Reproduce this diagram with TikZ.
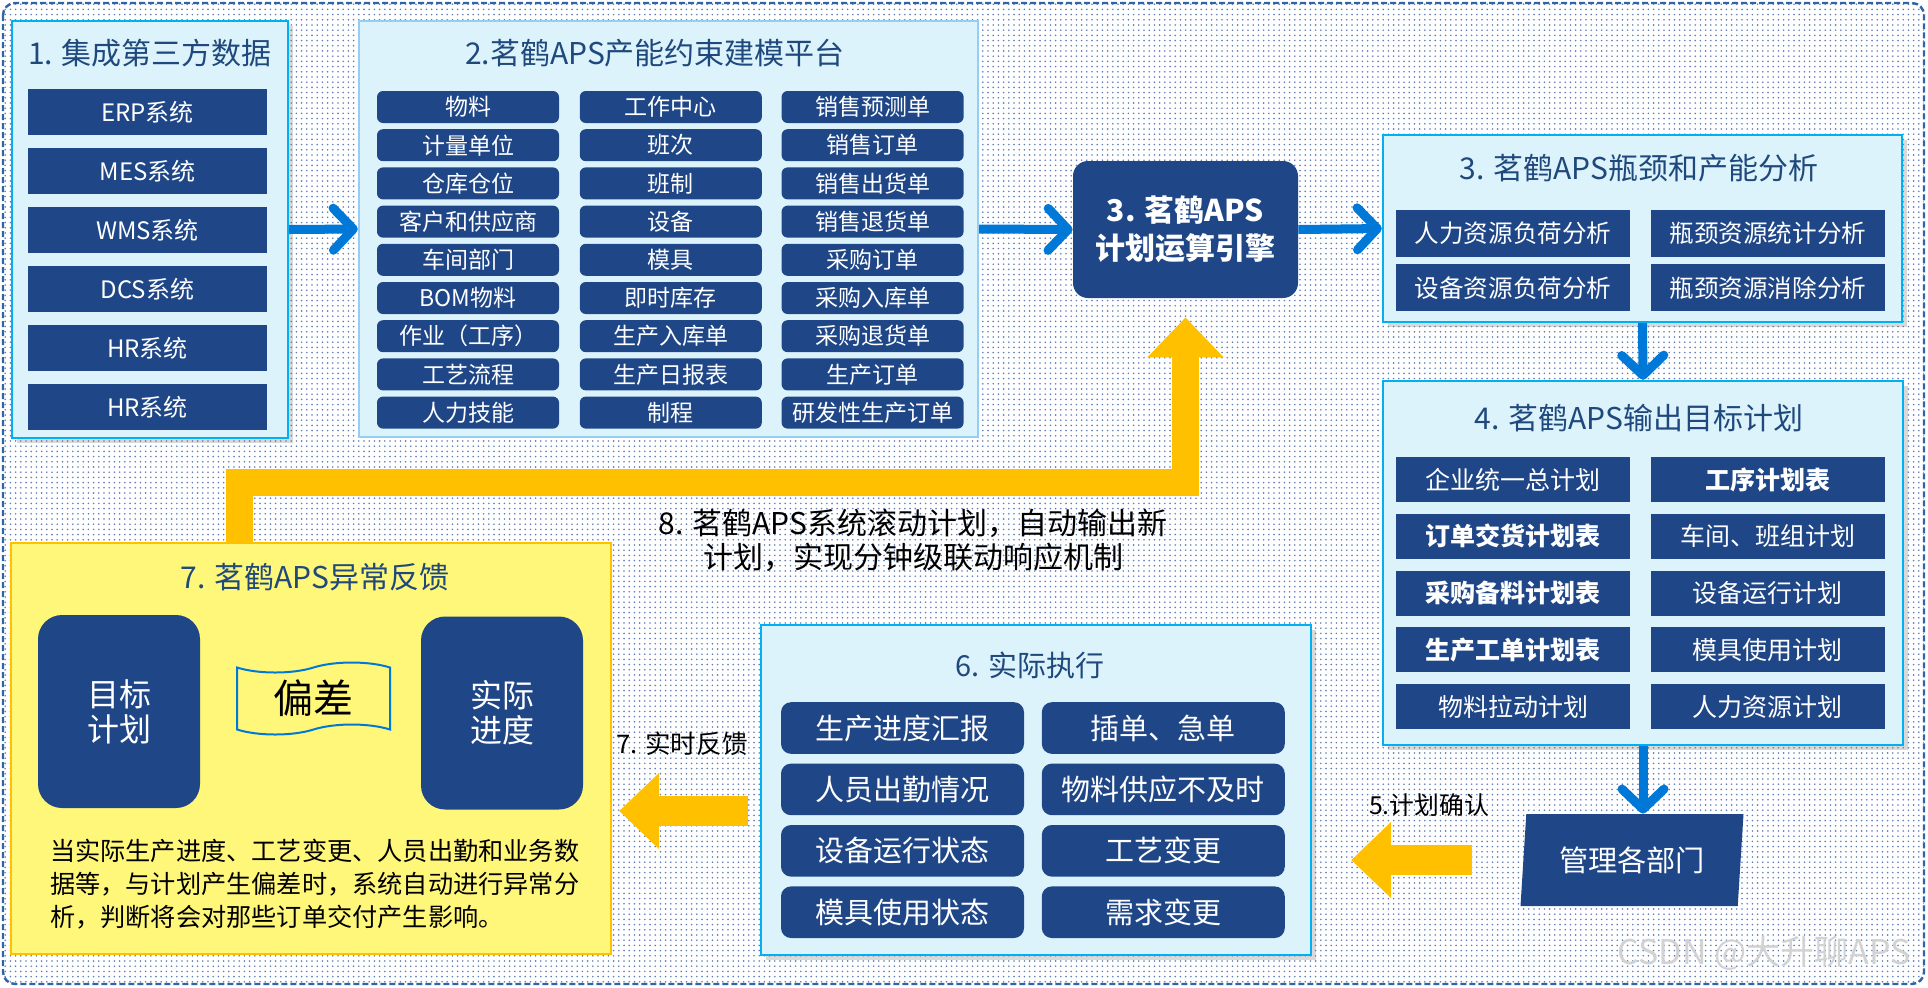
\documentclass[tikz,border=0pt]{standalone}
\usepackage{fontspec}
\setmainfont{Noto Sans CJK SC}
\usetikzlibrary{positioning,arrows.meta,shapes.geometric,shapes.symbols,shadows,patterns.meta}

\definecolor{navy}{RGB}{31,71,136}
\definecolor{ttlblue}{RGB}{31,73,125}
\definecolor{panelfill}{RGB}{221,243,252}
\definecolor{panelline}{RGB}{0,176,240}
\definecolor{paleline}{RGB}{150,205,242}
\definecolor{flowblue}{RGB}{0,120,215}
\definecolor{amber}{RGB}{255,192,0}
\definecolor{lemon}{RGB}{255,247,122}
\definecolor{dashblue}{RGB}{46,100,168}
\definecolor{dotblue}{RGB}{95,125,185}

\begin{document}
\begin{tikzpicture}[
  x=0.5pt, y=-0.5pt,
  panel/.style={rectangle, draw=panelline, line width=1.2pt, fill=panelfill},
  raised/.style={drop shadow={shadow xshift=2.5pt, shadow yshift=-2.5pt, opacity=0.3}},
  paneltitle/.style={text=ttlblue, font=\fontsize{15}{18}\selectfont},
  sysbox/.style={rectangle, fill=navy, text=white, inner sep=0pt,
    minimum width=119.5pt, minimum height=23pt, font=\fontsize{12}{14}\selectfont},
  databox/.style={rectangle, rounded corners=3pt, fill=navy, text=white, inner sep=0pt,
    minimum width=91pt, minimum height=16pt, font=\fontsize{11.5}{13}\selectfont},
  anabox/.style={rectangle, fill=navy, text=white, inner sep=0pt,
    minimum width=117pt, minimum height=23.5pt, font=\fontsize{12.3}{14}\selectfont},
  planbox/.style={anabox, minimum height=22.5pt, font=\fontsize{12.5}{14}\selectfont},
  execbox/.style={rectangle, rounded corners=5pt, fill=navy, text=white, inner sep=0pt,
    minimum width=121.5pt, minimum height=25.8pt, font=\fontsize{14.5}{16}\selectfont},
  stagebox/.style={rectangle, rounded corners=12pt, fill=navy, text=white, align=center,
    minimum width=81pt, minimum height=96.5pt, font=\fontsize{16}{17.5}\selectfont},
  bluearrow/.style={-{Straight Barb[length=10pt, width=21pt, round]}, line width=4.5pt, draw=flowblue},
  fbarrow/.style={-{Triangle[length=20pt, width=37pt]}, line width=15pt, draw=amber},
  flowlabel/.style={text=black, align=center}
]
  \useasboundingbox (0,0) rectangle (1928,987);
  % dotted backdrop with dashed frame
  \draw[dash pattern=on 3pt off 1.5pt, draw=dashblue, line width=1.2pt, rounded corners=6pt,
    pattern={Dots[radius=0.45pt, distance=2.6pt]}, pattern color=dotblue] (3,3) rectangle (1924,984);

  % 1. third party data
  \node[panel, raised, minimum width=138pt, minimum height=208.5pt] (src) at (150,229.5) {};
  \node[paneltitle] (srctitle) at (150,53) {1. 集成第三方数据};
  \node[sysbox] (erp) at (147.5,112) {ERP系统};
  \node[sysbox, below=6.1pt of erp] (mes) {MES系统};
  \node[sysbox, below=6.1pt of mes] (wms) {WMS系统};
  \node[sysbox, below=6.1pt of wms] (dcs) {DCS系统};
  \node[sysbox, below=6.1pt of dcs] (hra) {HR系统};
  \node[sysbox, below=6.1pt of hra] (hrb) {HR系统};

  % 2. modelling platform
  \node[panel, draw=paleline, minimum width=309.5pt, minimum height=208pt] (plat) at (668.5,229) {};
  \node[paneltitle] (plattitle) at (655,53) {2.茗鹤APS产能约束建模平台};
  \node[databox] (m1) at (468,107) {物料};
  \node[databox, below=2.7pt of m1] (m2) {计量单位};
  \node[databox, below=2.7pt of m2] (m3) {仓库仓位};
  \node[databox, below=2.7pt of m3] (m4) {客户和供应商};
  \node[databox, below=2.7pt of m4] (m5) {车间部门};
  \node[databox, below=2.7pt of m5] (m6) {BOM物料};
  \node[databox, below=2.7pt of m6] (m7) {作业（工序）};
  \node[databox, below=2.7pt of m7] (m8) {工艺流程};
  \node[databox, below=2.7pt of m8] (m9) {人力技能};
  \node[databox, right=10pt of m1] (w1) {工作中心};
  \node[databox, below=2.7pt of w1] (w2) {班次};
  \node[databox, below=2.7pt of w2] (w3) {班制};
  \node[databox, below=2.7pt of w3] (w4) {设备};
  \node[databox, below=2.7pt of w4] (w5) {模具};
  \node[databox, below=2.7pt of w5] (w6) {即时库存};
  \node[databox, below=2.7pt of w6] (w7) {生产入库单};
  \node[databox, below=2.7pt of w7] (w8) {生产日报表};
  \node[databox, below=2.7pt of w8] (w9) {制程};
  \node[databox, right=9.5pt of w1] (o1) {销售预测单};
  \node[databox, below=2.7pt of o1] (o2) {销售订单};
  \node[databox, below=2.7pt of o2] (o3) {销售出货单};
  \node[databox, below=2.7pt of o3] (o4) {销售退货单};
  \node[databox, below=2.7pt of o4] (o5) {采购订单};
  \node[databox, below=2.7pt of o5] (o6) {采购入库单};
  \node[databox, below=2.7pt of o6] (o7) {采购退货单};
  \node[databox, below=2.7pt of o7] (o8) {生产订单};
  \node[databox, below=2.7pt of o8] (o9) {研发性生产订单};

  % 3. engine
  \node[rectangle, rounded corners=7.5pt, fill=navy, text=white, align=center,
    minimum width=112.5pt, minimum height=68.5pt,
    font=\bfseries\fontsize{15}{19}\selectfont] (engine) at (1185.5,229.5) {3. 茗鹤APS\\计划运算引擎};

  % 3. bottleneck analysis
  \node[panel, raised, minimum width=259.5pt, minimum height=93.5pt] (bottle) at (1642.5,228.5) {};
  \node[paneltitle] (bottletitle) at (1639,168) {3. 茗鹤APS瓶颈和产能分析};
  \node[anabox] (hrload) at (1513,233) {人力资源负荷分析};
  \node[anabox, below=3.5pt of hrload] (eqload) {设备资源负荷分析};
  \node[anabox, right=10pt of hrload] (bnstat) {瓶颈资源统计分析};
  \node[anabox, right=10pt of eqload] (bnelim) {瓶颈资源消除分析};

  % 4. target plans
  \node[panel, raised, minimum width=260pt, minimum height=182pt] (plan) at (1643,563) {};
  \node[paneltitle] (plantitle) at (1639,418) {4. 茗鹤APS输出目标计划};
  \node[planbox] (p1) at (1513,479.5) {企业统一总计划};
  \node[planbox, below=5.5pt of p1, font=\bfseries\fontsize{12.5}{14}\selectfont] (p2) {订单交货计划表};
  \node[planbox, below=5.5pt of p2, font=\bfseries\fontsize{12.5}{14}\selectfont] (p3) {采购备料计划表};
  \node[planbox, below=5.5pt of p3, font=\bfseries\fontsize{12.5}{14}\selectfont] (p4) {生产工单计划表};
  \node[planbox, below=5.5pt of p4] (p5) {物料拉动计划};
  \node[planbox, right=10pt of p1, font=\bfseries\fontsize{12.5}{14}\selectfont] (q1) {工序计划表};
  \node[planbox, below=5.5pt of q1] (q2) {车间、班组计划};
  \node[planbox, below=5.5pt of q2] (q3) {设备运行计划};
  \node[planbox, below=5.5pt of q3] (q4) {模具使用计划};
  \node[planbox, below=5.5pt of q4] (q5) {人力资源计划};

  % 5. departments
  \node[trapezium, trapezium left angle=78, trapezium right angle=102, trapezium stretches body,
    fill=navy, text=white, inner sep=0pt, minimum width=111.5pt, minimum height=46pt,
    font=\fontsize{14.6}{17}\selectfont] (mgmt) at (1632,860) {管理各部门};
  \node[flowlabel, font=\fontsize{12.4}{15}\selectfont] (cftext) at (1429,805) {5.计划确认};

  % 6. execution
  \node[panel, raised, minimum width=275pt, minimum height=165pt] (exec) at (1036,790) {};
  \node[paneltitle, font=\fontsize{14.5}{17}\selectfont] (exectitle) at (1030,665) {6. 实际执行};
  \node[execbox] (x1) at (902.5,728) {生产进度汇报};
  \node[execbox, below=4.5pt of x1] (x2) {人员出勤情况};
  \node[execbox, below=4.5pt of x2] (x3) {设备运行状态};
  \node[execbox, below=4.5pt of x3] (x4) {模具使用状态};
  \node[execbox, right=8.5pt of x1] (y1) {插单、急单};
  \node[execbox, below=4.5pt of y1] (y2) {物料供应不及时};
  \node[execbox, below=4.5pt of y2] (y3) {工艺变更};
  \node[execbox, below=4.5pt of y3] (y4) {需求变更};
  \node[flowlabel, font=\fontsize{12.8}{15}\selectfont] (rttext) at (682,744) {7. 实时反馈};

  % 7. exception feedback
  \node[rectangle, draw=amber, line width=1.2pt, fill=lemon, minimum width=300pt,
    minimum height=205.5pt] (fb) at (311,748.5) {};
  \node[paneltitle] (fbtitle) at (315,577) {7. 茗鹤APS异常反馈};
  \node[stagebox] (target) at (119,711.5) {目标\\计划};
  \node[stagebox] (actual) at (502,713) {实际\\进度};
  \node[tape, draw=flowblue, line width=1pt, fill=lemon, minimum width=76.5pt, minimum height=36pt,
    font=\fontsize{20}{24}\selectfont] (dev) at (313.5,698.5) {偏差};
  \node[anchor=west, align=left, text=black, font=\fontsize{12.6}{16.5}\selectfont] (fbtext) at (43,884)
    {当实际生产进度、工艺变更、人员出勤和业务数\\据等，与计划产生偏差时，系统自动进行异常分\\析，判断将会对那些订单交付产生影响。};

  % 8. rolling plan
  \node[flowlabel, font=\fontsize{15}{17}\selectfont] (rolltext) at (913,540)
    {8. 茗鹤APS系统滚动计划，自动输出新\\计划，实现分钟级联动响应机制};

  \node[text=gray!35, font=\fontsize{17}{20}\selectfont] (mark) at (1764,953) {CSDN @大升聊APS};

  \draw[bluearrow] (src.east) -- (plat.west);
  \draw[bluearrow] (plat.east) -- (engine.west);
  \draw[bluearrow] (engine.east) -- (bottle.west);
  \draw[bluearrow] (bottle.south) -- (plan.north);
  \draw[bluearrow] (plan.south) -- (plan.south |- mgmt.north);
  \draw[fbarrow, shorten <=25.5pt, shorten >=19.5pt] (mgmt.west) -- (exec.east |- mgmt.west);
  \coordinate (rtstart) at ([yshift=-10.5pt]exec.west);
  \draw[fbarrow, shorten <=6pt, shorten >=3.5pt] (rtstart) -- (rtstart -| fb.east);
  \draw[fbarrow, line width=13.5pt, shorten >=9.5pt] ([xshift=-36pt]fb.north) -- ++(0,-59) -| (engine.south);
\end{tikzpicture}
\end{document}
